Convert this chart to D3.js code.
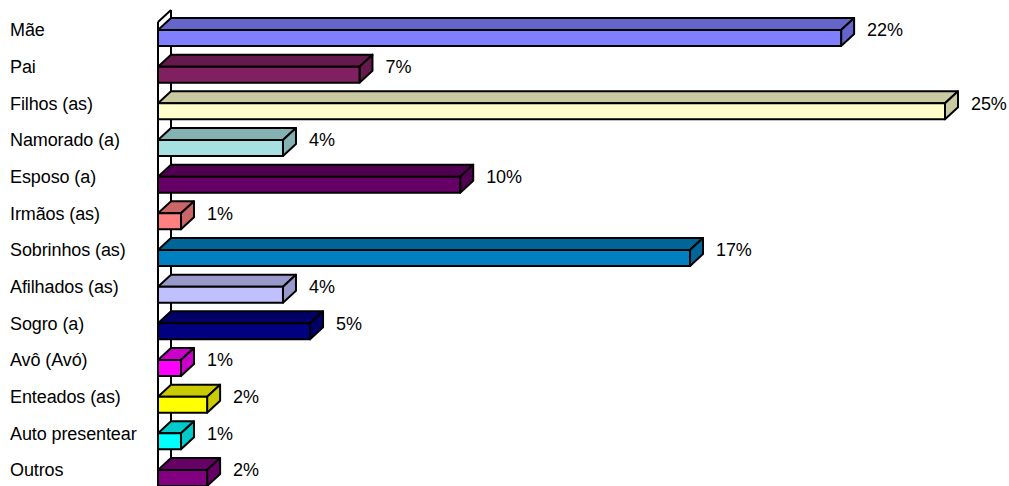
<!DOCTYPE html>
<html>
<head>
<meta charset="utf-8">
<script src="https://cdn.jsdelivr.net/npm/d3@7"></script>
<style>
  body { margin: 0; background: #fff; }
  text { font-family: "Liberation Sans", Arial, sans-serif; font-size: 18px; fill: #000; letter-spacing: -0.1px; }
</style>
</head>
<body>
<div id="chart"></div>
<script>
const categories = ["Mãe", "Pai", "Filhos (as)", "Namorado (a)", "Esposo (a)", "Irmãos (as)", "Sobrinhos (as)",
  "Afilhados (as)", "Sogro (a)", "Avô (Avó)", "Enteados (as)", "Auto presentear", "Outros"];
const values = [21.7, 6.4, 25, 3.97, 9.6, 0.73, 16.9, 3.97, 4.83, 0.73, 1.56, 0.73, 1.56];
const valueLabels = ["22%", "7%", "25%", "4%", "10%", "1%", "17%", "4%", "5%", "1%", "2%", "1%", "2%"];
const colors = ["#8080ff", "#802060", "#ffffcc", "#a6e0e0", "#660066", "#ff8080", "#0080c0",
  "#c0c0ff", "#000080", "#ff00ff", "#ffff00", "#00ffff", "#800080"];

const w = 1009, h = 486;
const barH = 16, depthX = 13, depthY = 12;

const xScale = d3.scaleLinear().domain([0, 25]).range([158, 945]);
// centre of the front face of each bar
const yScale = d3.scalePoint().domain(categories).range([38, 478]);

const svg = d3.select("#chart").append("svg")
  .attr("width", w)
  .attr("height", h)
  .style("display", "block");

const x0 = xScale(0);
const top0 = yScale(categories[0]) - barH / 2;

// back wall and axis
const wall = svg.append("g").attr("fill", "none").attr("stroke", "#000").attr("stroke-width", 2);
wall.append("line").attr("x1", x0).attr("x2", x0).attr("y1", top0 - 8).attr("y2", h);
wall.append("line").attr("x1", x0 + depthX).attr("x2", x0 + depthX).attr("y1", top0 - 8 - depthY).attr("y2", h);
wall.append("line").attr("x1", x0).attr("x2", x0 + depthX).attr("y1", top0 - 8).attr("y2", top0 - 8 - depthY);

const bars = svg.selectAll(".bar")
  .data(categories)
  .enter()
  .append("g")
  .attr("class", "bar")
  .attr("stroke", "#000")
  .attr("stroke-width", 2)
  .attr("stroke-linejoin", "round");

// top face
bars.append("path")
  .attr("fill", (d, i) => d3.rgb(colors[i]).darker(0.65))
  .attr("d", (d, i) => {
    const r = xScale(values[i]), t = yScale(d) - barH / 2;
    return `M${x0},${t}L${x0 + depthX},${t - depthY}L${r + depthX},${t - depthY}L${r},${t}Z`;
  });

// side face
bars.append("path")
  .attr("fill", (d, i) => d3.rgb(colors[i]).darker(0.65))
  .attr("d", (d, i) => {
    const r = xScale(values[i]), t = yScale(d) - barH / 2;
    return `M${r},${t}L${r + depthX},${t - depthY}L${r + depthX},${t - depthY + barH}L${r},${t + barH}Z`;
  });

// front face
bars.append("rect")
  .attr("fill", (d, i) => colors[i])
  .attr("x", x0)
  .attr("y", d => yScale(d) - barH / 2)
  .attr("width", (d, i) => xScale(values[i]) - x0)
  .attr("height", barH);

svg.selectAll(".cat")
  .data(categories)
  .enter()
  .append("text")
  .attr("class", "cat")
  .attr("x", 10)
  .attr("y", d => yScale(d) - 8)
  .attr("dy", "0.35em")
  .text(d => d);

svg.selectAll(".val")
  .data(valueLabels)
  .enter()
  .append("text")
  .attr("class", "val")
  .attr("x", (d, i) => xScale(values[i]) + depthX + 13)
  .attr("y", (d, i) => yScale(categories[i]) - 8)
  .attr("dy", "0.35em")
  .text(d => d);
</script>
</body>
</html>
